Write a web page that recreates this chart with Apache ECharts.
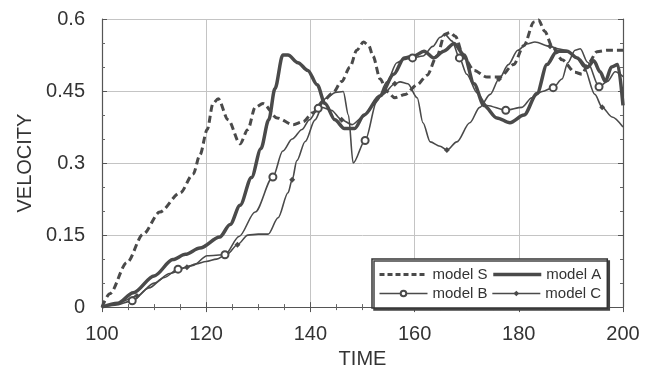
<!DOCTYPE html>
<html>
<head>
<meta charset="utf-8">
<script src="https://cdn.jsdelivr.net/npm/echarts@6/dist/echarts.min.js"></script>
<style>
  html, body { margin: 0; padding: 0; background: #fff; }
  #chart { width: 657px; height: 374px; }
</style>
</head>
<body>
<div id="chart"></div>
<script>
// tick labels
var timeTicks = [100, 120, 140, 160, 180, 200];
var velTicks = [0, 0.15, 0.3, 0.45, 0.6];

// model S (dashed)
var timeS = [100, 101.5, 104.8, 107.9, 111.1, 115, 117.5, 118.8, 120.2, 121.3, 122.3, 124.2, 126.5, 128, 129.4, 130.9, 133.6, 136.7, 138.6, 140.5, 142.5, 144.3, 146, 147.6, 148.9, 150.2, 151.2, 152, 153.4, 154.7, 156.2, 158.2, 160.5, 162.4, 164.3, 165.8, 166.8, 167.8, 169.5, 171.4, 173.9, 176.4, 179, 181, 182.9, 183.8, 185, 186.4, 188.3, 190.8, 192.1, 193.5, 195, 197, 200];
var velS = [0, 0.028, 0.093, 0.152, 0.198, 0.238, 0.277, 0.317, 0.37, 0.424, 0.434, 0.39, 0.34, 0.37, 0.416, 0.424, 0.394, 0.38, 0.386, 0.405, 0.43, 0.446, 0.47, 0.5, 0.535, 0.552, 0.545, 0.523, 0.475, 0.449, 0.436, 0.443, 0.463, 0.483, 0.523, 0.568, 0.572, 0.564, 0.519, 0.493, 0.479, 0.479, 0.505, 0.545, 0.594, 0.598, 0.574, 0.543, 0.515, 0.489, 0.485, 0.51, 0.532, 0.535, 0.535];

// model A (thick)
var timeA = [100, 103, 106, 110, 113.6, 116, 118.8, 122.6, 124.6, 126.5, 128.7, 130.5, 132, 133.2, 134.7, 135.7, 137.6, 139.5, 141.3, 142.8, 144.7, 146.5, 148.5, 150.3, 153.4, 156, 158, 159.9, 161.8, 163.7, 165.6, 167.6, 169.5, 171.4, 173.3, 175.8, 178.3, 181, 183.5, 185.4, 187.3, 189.3, 191.2, 193.1, 194.4, 195.6, 196.6, 197.8, 199, 200];
var velA = [0, 0.008, 0.03, 0.065, 0.099, 0.11, 0.123, 0.146, 0.172, 0.212, 0.27, 0.33, 0.39, 0.455, 0.525, 0.525, 0.509, 0.493, 0.463, 0.424, 0.39, 0.372, 0.372, 0.4, 0.44, 0.485, 0.519, 0.523, 0.533, 0.519, 0.533, 0.549, 0.525, 0.465, 0.42, 0.394, 0.384, 0.4, 0.445, 0.505, 0.533, 0.533, 0.519, 0.499, 0.513, 0.49, 0.47, 0.5, 0.505, 0.42];

// model B (open circles)
var timeB = [100, 102.5, 105.8, 109, 112, 114.6, 117.5, 120.2, 123.6, 126.3, 129.4, 132.8, 134.7, 136.5, 138.4, 139.8, 141.5, 143, 144.8, 146.3, 147.3, 148.2, 150.5, 152.8, 154.7, 156.6, 157.8, 159.6, 161.6, 163.5, 164.9, 165.8, 167.2, 168.6, 170, 172, 173.9, 177.5, 180.6, 182.5, 184.5, 186.6, 188.3, 189.4, 190.8, 191.8, 193.2, 195.4, 197, 198.5, 200];
var velB = [0, 0.004, 0.013, 0.04, 0.062, 0.079, 0.087, 0.107, 0.109, 0.147, 0.198, 0.271, 0.325, 0.35, 0.37, 0.39, 0.414, 0.435, 0.447, 0.449, 0.4, 0.3, 0.347, 0.43, 0.469, 0.509, 0.515, 0.519, 0.523, 0.543, 0.562, 0.568, 0.554, 0.519, 0.485, 0.446, 0.42, 0.41, 0.416, 0.436, 0.449, 0.457, 0.475, 0.509, 0.535, 0.538, 0.51, 0.459, 0.47, 0.49, 0.48];
var markB = [105.8, 114.6, 123.6, 132.8, 141.5, 150.5, 159.6, 168.6, 177.5, 186.6, 195.4];

// model C (small diamonds)
var timeC = [100, 103, 106.7, 110, 113, 116.3, 118, 120, 122, 124, 126, 128, 130, 131.9, 133.8, 135.7, 136.5, 137.4, 139, 140.9, 142.2, 144, 146, 148, 150.1, 152, 153.9, 156.2, 157.2, 158.7, 160.5, 161.6, 163, 164.9, 166.2, 168.1, 170.6, 172.5, 174.5, 176.2, 178, 179.8, 181.5, 183.1, 186, 187.5, 189, 191, 192.5, 194.6, 196, 197.9, 200];
var velC = [0, 0.008, 0.023, 0.05, 0.07, 0.083, 0.09, 0.095, 0.1, 0.11, 0.13, 0.15, 0.152, 0.152, 0.186, 0.238, 0.265, 0.305, 0.345, 0.39, 0.416, 0.41, 0.39, 0.38, 0.396, 0.42, 0.443, 0.465, 0.469, 0.465, 0.436, 0.384, 0.344, 0.335, 0.327, 0.344, 0.384, 0.416, 0.443, 0.475, 0.505, 0.535, 0.548, 0.552, 0.543, 0.538, 0.535, 0.52, 0.5, 0.443, 0.416, 0.396, 0.375];
var markC = [106.7, 116.3, 126, 136.5, 146, 156.2, 166.2, 176.2, 186, 196];

var ink = '#4a4a4a';
var font = 'Liberation Sans, Arial, Helvetica, sans-serif';

function pairs(t, v, marks, sym, size) {
    return t.map(function (x, i) {
        if (marks && marks.indexOf(x) >= 0) {
            return { value: [x, v[i]], symbol: sym, symbolSize: size };
        }
        return { value: [x, v[i]], symbol: 'none' };
    });
}

var myChart = echarts.init(document.getElementById('chart'), null, { renderer: 'canvas' });

var tickAxis = {
    axisLine: { show: true, lineStyle: { color: '#555', width: 1.2 } },
    axisTick: { show: true, inside: true, length: 5, lineStyle: { color: '#555' } },
    minorTick: { show: true, length: 3, lineStyle: { color: '#666' } }
};

var option = {
    backgroundColor: '#fff',
    animation: false,
    textStyle: { fontFamily: font },
    grid: { left: 102, right: 34, top: 19, bottom: 52 },
    legend: {
        data: [
            { name: 'model S', itemStyle: { opacity: 0 }, lineStyle: { width: 3, type: [5, 3] } },
            { name: 'model A', itemStyle: { opacity: 0 }, lineStyle: { width: 3.5 } },
            { name: 'model B', lineStyle: { width: 1.6 } },
            { name: 'model C', lineStyle: { width: 1.6 } }
        ],
        left: 372,
        top: 259,
        width: 240,
        padding: [8, 6, 7, 6],
        itemGap: 4,
        itemWidth: 48,
        itemHeight: 7,
        textStyle: { fontSize: 15, color: '#333', width: 62, fontFamily: font },
        backgroundColor: '#fff',
        borderColor: '#333',
        borderWidth: 1.5,
        borderRadius: 0,
        shadowColor: '#444',
        shadowBlur: 0,
        shadowOffsetX: 2,
        shadowOffsetY: 2
    },
    xAxis: [
        Object.assign({}, tickAxis, {
            type: 'value',
            min: timeTicks[0],
            max: timeTicks[timeTicks.length - 1],
            interval: timeTicks[1] - timeTicks[0],
            minorTick: Object.assign({}, tickAxis.minorTick, { splitNumber: 4 }),
            axisLabel: { fontSize: 20, color: '#333', margin: 17, fontFamily: font },
            splitLine: { show: true, lineStyle: { color: '#c4c4c4', width: 1 } },
            name: 'TIME',
            nameLocation: 'middle',
            nameGap: 31,
            nameTextStyle: { fontSize: 20, color: '#333', fontFamily: font }
        }),
        Object.assign({}, tickAxis, {
            type: 'value',
            position: 'top',
            min: timeTicks[0],
            max: timeTicks[timeTicks.length - 1],
            interval: timeTicks[1] - timeTicks[0],
            minorTick: Object.assign({}, tickAxis.minorTick, { splitNumber: 4 }),
            axisLabel: { show: false },
            splitLine: { show: false }
        })
    ],
    yAxis: [
        Object.assign({}, tickAxis, {
            type: 'value',
            min: velTicks[0],
            max: velTicks[velTicks.length - 1],
            interval: velTicks[1] - velTicks[0],
            minorTick: Object.assign({}, tickAxis.minorTick, { splitNumber: 3 }),
            axisLabel: { fontSize: 20, color: '#333', margin: 17, fontFamily: font },
            splitLine: { show: true, lineStyle: { color: '#c4c4c4', width: 1 } },
            name: 'VELOCITY',
            nameLocation: 'middle',
            nameRotate: 90,
            nameGap: 66,
            nameTextStyle: { fontSize: 20, color: '#333', fontFamily: font }
        }),
        Object.assign({}, tickAxis, {
            type: 'value',
            position: 'right',
            min: velTicks[0],
            max: velTicks[velTicks.length - 1],
            interval: velTicks[1] - velTicks[0],
            minorTick: Object.assign({}, tickAxis.minorTick, { splitNumber: 3 }),
            axisLabel: { show: false },
            splitLine: { show: false }
        })
    ],
    series: [
        {
            name: 'model S',
            type: 'line',
            symbol: 'none',
            smooth: 0.3,
            smoothMonotone: 'x',
            lineStyle: { color: ink, width: 3, type: [7, 4] },
            itemStyle: { color: ink },
            data: pairs(timeS, velS)
        },
        {
            name: 'model A',
            type: 'line',
            symbol: 'none',
            smooth: 0.3,
            smoothMonotone: 'x',
            lineStyle: { color: ink, width: 3.5 },
            itemStyle: { color: ink },
            data: pairs(timeA, velA)
        },
        {
            name: 'model B',
            type: 'line',
            symbol: 'emptyCircle',
            symbolSize: 7,
            smooth: 0.3,
            smoothMonotone: 'x',
            lineStyle: { color: ink, width: 1.6 },
            itemStyle: { color: ink, borderWidth: 1.2 },
            data: pairs(timeB, velB, markB, 'emptyCircle', 7)
        },
        {
            name: 'model C',
            type: 'line',
            symbol: 'diamond',
            symbolSize: 6,
            smooth: 0.3,
            smoothMonotone: 'x',
            lineStyle: { color: ink, width: 1.6 },
            itemStyle: { color: ink },
            data: pairs(timeC, velC, markC, 'diamond', 6)
        }
    ]
};

myChart.setOption(option);
</script>
</body>
</html>
